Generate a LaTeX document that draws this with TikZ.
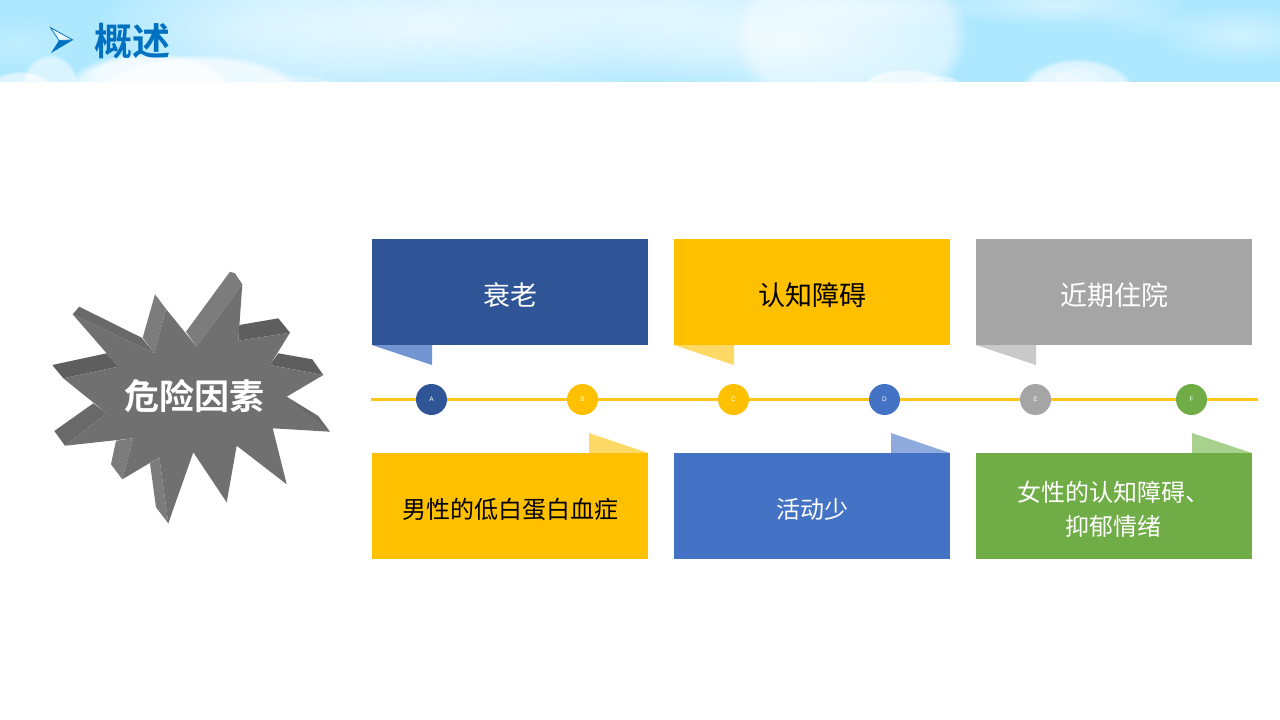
\documentclass[tikz,border=0pt]{standalone}
\usepackage{fontspec}
\setmainfont{Liberation Sans}
\newfontfamily\cjk{Noto Sans CJK SC}
\newfontfamily\cjkb{Noto Sans CJK SC Bold}
\usetikzlibrary{fadings}
\definecolor{navy}{HTML}{2F5597}
\definecolor{amber}{HTML}{FFC000}
\definecolor{midgray}{HTML}{A5A5A5}
\definecolor{royal}{HTML}{4472C4}
\definecolor{leaf}{HTML}{70AD47}
\definecolor{navyfold}{HTML}{7295D2}
\definecolor{amberfold}{HTML}{FFD966}
\definecolor{grayfold}{HTML}{C9C9C9}
\definecolor{royalfold}{HTML}{8FAADC}
\definecolor{leaffold}{HTML}{A9D18E}
\definecolor{sky}{HTML}{ADE8FF}
\definecolor{titleblue}{HTML}{0070C0}
\definecolor{facegray}{HTML}{707070}
\definecolor{sidedark}{HTML}{5E5E5E}
\definecolor{sideslight}{HTML}{696969}
\definecolor{sidemid}{HTML}{7C7C7C}
\tikzfading[name=softblob,inner color=transparent!0,outer color=transparent!100]
\tikzset{
  card/.style={minimum width=276pt,minimum height=106pt,inner sep=0pt,outer sep=0pt},
  bigtext/.style={inner sep=0pt,font=\cjk\fontsize{27}{34}\selectfont},
  smalltext/.style={inner sep=0pt,align=center,font=\cjk\fontsize{24}{34}\selectfont},
  dot/.style={circle,minimum size=31pt,inner sep=0pt,text=white,font=\fontsize{6.5}{7}\selectfont},
  cloud/.style={white,path fading=softblob},
  puff/.style={white,path fading=circle with fuzzy edge 15 percent},
}
\begin{document}
\begin{tikzpicture}[x=1pt,y=-1pt]
\useasboundingbox (0,0) rectangle (1280,720);
\fill[white] (0,0) rectangle (1280,720);
% sky banner
\begin{scope}
\clip (0,0) rectangle (1280,82);
\fill[sky] (0,0) rectangle (1280,82);
\foreach \cx/\cy/\rx/\ry/\op in {
  430/25/340/90/.75, 650/10/260/70/.5, 790/40/190/70/.65, 270/30/180/70/.35,
  20/45/60/30/.25, 1240/35/90/30/.45, 1060/5/130/22/.5, 1150/22/60/18/.2,
  870/10/120/20/.4}{
  \fill[cloud,fill opacity=\op] (\cx,\cy) ellipse[x radius=\rx,y radius=\ry];
}
\foreach \cx/\cy/\rx/\ry/\op in {
  850/35/118/85/.45, 905/84/42/15/.6, 940/84/20/9/.5,
  1077/92/58/34/.6, 1077/90/30/24/.3, 1057/86/30/16/.25,
  50/84/28/30/.55, 150/88/84/36/.7, 200/94/105/40/.7, 130/90/45/36/.4, 20/88/32/17/.6,
  290/95/60/22/.3}{
  \fill[puff,fill opacity=\op] (\cx,\cy) ellipse[x radius=\rx,y radius=\ry];
}
\end{scope}
% title
\fill[titleblue] (50,28) -- (73,40) -- (51,53) -- (59,40.5) -- cycle;
\fill[white!75!sky] (50,28) -- (73,40) -- (59,40.5) -- cycle;
\draw[titleblue,line width=.7pt,line join=miter] (50.5,27.5) -- (72.5,39.8) -- (59,40.5) -- cycle;
\node[anchor=center,text=titleblue,font=\cjkb\fontsize{38}{40}\selectfont,inner sep=0pt] (title) at (132.5,41) {概述};
% starburst
\fill[sidedark] (52.3,365) -- (106.7,353.3) -- (118.3,366.7) -- (63.3,378.3) -- cycle;
\fill[sideslight] (72.7,314.3) -- (79.3,306.7) -- (141.7,337.7) -- (154.3,353.3) -- cycle;
\fill[sidemid] (155,294.3) -- (166,309) -- (154.3,353.3) -- (142.7,337.7) -- cycle;
\fill[sidemid] (186,331.7) -- (230,271.7) -- (235,273.3) -- (242.3,284.3) -- (196.7,346.7) -- cycle;
\fill[sidedark] (239.3,325) -- (278.3,318.3) -- (290,332.7) -- (238.3,340.7) -- cycle;
\fill[sidedark] (278.3,353.3) -- (312.3,359.3) -- (323.3,375) -- (270,365) -- cycle;
\fill[sideslight] (286.7,396.7) -- (318.3,416) -- (330,431.7) -- (280,397.5) -- cycle;
\fill[sideslight] (54.3,431) -- (93.3,403.3) -- (106.7,413.3) -- (65,445.7) -- cycle;
\fill[sidemid] (111,464.3) -- (116,440.7) -- (133.3,438.3) -- (122.3,479.3) -- cycle;
\fill[sidemid] (150,463.3) -- (159.3,457.3) -- (168.3,523.3) -- (156,507.3) -- cycle;
\fill[facegray] (63.3,378.3) -- (118.3,366.7) -- (72.7,314.3) -- (154.3,353.3) -- (166,309) -- (196.7,346.7) -- (242.3,284.3) -- (238.3,340.7) -- (290,332.7) -- (270,365) -- (323.3,375) -- (286.7,396.7) -- (330,431.7) -- (272.7,428.3) -- (286.7,484.3) -- (236.7,445.7) -- (226.7,502.3) -- (193.3,452.3) -- (168.3,523.3) -- (159.3,457.3) -- (122.3,479.3) -- (133.3,438.3) -- (65,445.7) -- (106.7,413.3) -- cycle;
\node[text=white,font=\cjkb\fontsize{35}{38}\selectfont,inner sep=0pt] (star) at (194.5,396) {危险因素};
% timeline
\coordinate (tl) at (371,399.5);
\coordinate (tr) at (1258,399.5);
\draw[amber!90!white,line width=2.2pt] (tl) -- (tr);
\node[dot,fill=navy] (A) at (431.5,399.5) {A};
\node[dot,fill=amber] (B) at (582.5,399.5) {B};
\node[dot,fill=amber] (C) at (733.5,399.5) {C};
\node[dot,fill=royal] (D) at (884.5,399.5) {D};
\node[dot,fill=midgray] (E) at (1035.5,399.5) {E};
\node[dot,fill=leaf] (F) at (1191.5,399.5) {F};
% folds
\fill[navyfold] (372,345) -- (432,345) -- (432,365) -- cycle;
\fill[amberfold] (674,345) -- (734,345) -- (734,365) -- cycle;
\fill[grayfold] (976,345) -- (1036,345) -- (1036,365) -- cycle;
\fill[amberfold] (648,453) -- (589,453) -- (589,433) -- cycle;
\fill[royalfold] (950,453) -- (891,453) -- (891,433) -- cycle;
\fill[leaffold] (1252,453) -- (1192,453) -- (1192,433) -- cycle;
% cards
\node[card,fill=navy] (c1) at (510,292) {};
\node[card,fill=amber] (c2) at (812,292) {};
\node[card,fill=midgray] (c3) at (1114,292) {};
\node[card,fill=amber] (c4) at (510,506) {};
\node[card,fill=royal] (c5) at (812,506) {};
\node[card,fill=leaf] (c6) at (1114,506) {};
\node[bigtext,text=white] (t1) at (510,295) {衰老};
\node[bigtext,text=black] (t2) at (812,295) {认知障碍};
\node[bigtext,text=white] (t3) at (1114,295) {近期住院};
\node[smalltext,text=black] (t4) at (510,509) {男性的低白蛋白血症};
\node[smalltext,text=white] (t5) at (812,509) {活动少};
\node[smalltext,text=white] (t6) at (1113.5,509) {女性的认知障碍、\\抑郁情绪};
\end{tikzpicture}
\end{document}
